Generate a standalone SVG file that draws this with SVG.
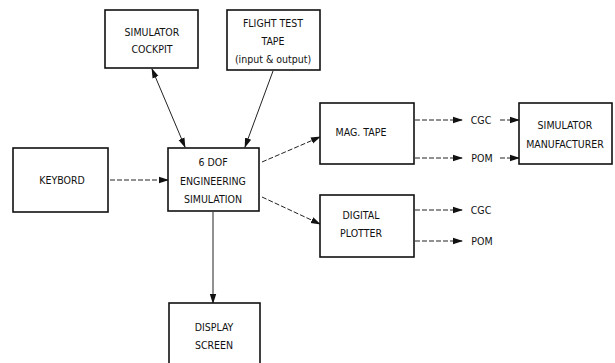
<svg xmlns="http://www.w3.org/2000/svg" width="615" height="363" viewBox="0 0 615 363">
<style>
.box{fill:#fff;stroke:#111;stroke-width:1.6}
.t{font-family:"Liberation Sans Narrow","DejaVu Sans Condensed","Liberation Sans",sans-serif;font-size:10.5px;fill:#111;text-anchor:middle}
.c{fill:none;stroke:#222;stroke-width:1}
.d{stroke-dasharray:5 2}
</style>
<defs>
<marker id="ah" markerWidth="10" markerHeight="8" refX="9" refY="4" orient="auto" markerUnits="userSpaceOnUse">
<path d="M0,0.8 L10,4 L0,7.2 Z" fill="#111"/>
</marker>
<marker id="as" markerWidth="10" markerHeight="8" refX="1" refY="4" orient="auto" markerUnits="userSpaceOnUse">
<path d="M10,0.8 L0,4 L10,7.2 Z" fill="#111"/>
</marker>
</defs>
<g id="connectors">
<line class="c" x1="152" y1="69" x2="185" y2="147" marker-start="url(#as)" marker-end="url(#ah)"/>
<line class="c" x1="273" y1="71" x2="245" y2="147" marker-end="url(#ah)"/>
<line class="c d" x1="110" y1="180" x2="168" y2="180" marker-end="url(#ah)"/>
<line class="c d" x1="262" y1="162" x2="320" y2="137" marker-end="url(#ah)"/>
<line class="c d" x1="262" y1="197" x2="320" y2="224" marker-end="url(#ah)"/>
<line class="c" x1="213" y1="212" x2="213" y2="303" marker-end="url(#ah)"/>
<line class="c d" x1="415" y1="120" x2="462" y2="120" marker-end="url(#ah)"/>
<line class="c d" x1="415" y1="158" x2="462" y2="158" marker-end="url(#ah)"/>
<line class="c d" x1="500" y1="120" x2="519" y2="120" marker-end="url(#ah)"/>
<line class="c d" x1="500" y1="158" x2="519" y2="158" marker-end="url(#ah)"/>
<line class="c d" x1="415" y1="210" x2="462" y2="210" marker-end="url(#ah)"/>
<line class="c d" x1="415" y1="241" x2="462" y2="241" marker-end="url(#ah)"/>
</g>
<g id="cockpit"><rect class="box" x="105" y="10" width="93" height="58"/>
<text class="t" x="152" y="36">SIMULATOR</text><text class="t" x="152" y="53">COCKPIT</text></g>
<g id="tape"><rect class="box" x="227" y="10" width="93" height="60"/>
<text class="t" x="273" y="27">FLIGHT TEST</text><text class="t" x="273" y="45">TAPE</text><text class="t" x="273" y="63">(input &amp; output)</text></g>
<g id="keyboard"><rect class="box" x="13" y="148" width="95" height="64"/>
<text class="t" x="62" y="184">KEYBORD</text></g>
<g id="sim"><rect class="box" x="168" y="148" width="91" height="63"/>
<text class="t" x="213" y="166">6 DOF</text><text class="t" x="213" y="185">ENGINEERING</text><text class="t" x="213" y="203">SIMULATION</text></g>
<g id="magtape"><rect class="box" x="320" y="103" width="94" height="61"/>
<text class="t" x="361" y="136">MAG. TAPE</text></g>
<g id="plotter"><rect class="box" x="320" y="195" width="94" height="62"/>
<text class="t" x="361" y="219">DIGITAL</text><text class="t" x="361" y="237">PLOTTER</text></g>
<g id="manufacturer"><rect class="box" x="519" y="103" width="93" height="61"/>
<text class="t" x="565" y="129">SIMULATOR</text><text class="t" x="565" y="148">MANUFACTURER</text></g>
<g id="display"><rect class="box" x="169" y="303" width="91" height="62"/>
<text class="t" x="214" y="331">DISPLAY</text><text class="t" x="214" y="349">SCREEN</text></g>
<g id="labels">
<text class="t" x="481" y="124">CGC</text><text class="t" x="482" y="162">POM</text>
<text class="t" x="481" y="214">CGC</text><text class="t" x="482" y="245">POM</text>
</g>
</svg>
